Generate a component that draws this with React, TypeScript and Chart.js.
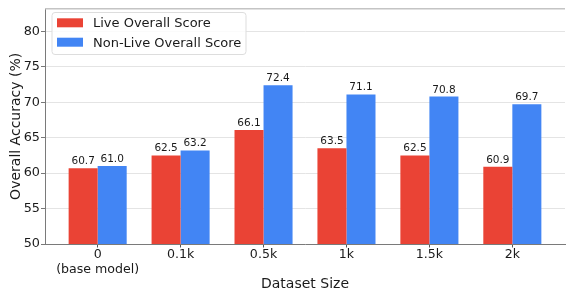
import React, { useEffect, useRef } from 'react';
import { Chart, registerables } from 'chart.js';
Chart.register(...registerables);

const categories: (string | string[])[] = [['0', '(base model)'], '0.1k', '0.5k', '1k', '1.5k', '2k'];
const liveScores = [60.7, 62.5, 66.1, 63.5, 62.5, 60.9];
const nonLiveScores = [61.0, 63.2, 72.4, 71.1, 70.8, 69.7];
const yTicks = [50, 55, 60, 65, 70, 75, 80];
const seriesLabels = ['Live Overall Score', 'Non-Live Overall Score'];
const seriesColors = ['#EA4335', '#4285F4'];

const FONT = '"DejaVu Sans", sans-serif';

const valueLabels = {
  id: 'valueLabels',
  afterDatasetsDraw(chart: any) {
    const ctx = chart.ctx;
    ctx.save();
    ctx.font = `10.5px ${FONT}`;
    ctx.fillStyle = '#1a1a1a';
    ctx.textAlign = 'center';
    ctx.textBaseline = 'alphabetic';
    chart.data.datasets.forEach((ds: any, di: number) => {
      const meta = chart.getDatasetMeta(di);
      meta.data.forEach((el: any, i: number) => {
        const v = ds.data[i].y;
        ctx.fillText(v.toFixed(1), el.x, el.y - 4);
      });
    });
    ctx.restore();
  },
};

const frameAndLegend = {
  id: 'frameAndLegend',
  afterDraw(chart: any) {
    const ctx = chart.ctx;
    const a = chart.chartArea;
    ctx.save();
    // top spine
    ctx.strokeStyle = '#c4c4c4';
    ctx.lineWidth = 1.5;
    ctx.beginPath();
    ctx.moveTo(a.left, a.top);
    ctx.lineTo(a.right, a.top);
    ctx.stroke();
    // legend
    const bx = 52, by = 12.5, bw = 194, bh = 42;
    ctx.fillStyle = 'rgba(255,255,255,0.85)';
    ctx.strokeStyle = '#dddddd';
    ctx.lineWidth = 1;
    ctx.beginPath();
    if (ctx.roundRect) ctx.roundRect(bx, by, bw, bh, 3);
    else ctx.rect(bx, by, bw, bh);
    ctx.fill();
    ctx.stroke();
    const rows = [22.8, 42.2];
    ctx.font = `13px ${FONT}`;
    ctx.textAlign = 'left';
    ctx.textBaseline = 'alphabetic';
    chart.data.datasets.forEach((ds: any, i: number) => {
      const cy = rows[i];
      ctx.fillStyle = ds.backgroundColor;
      ctx.fillRect(57, cy - 4.5, 26, 9);
      ctx.fillStyle = '#1a1a1a';
      ctx.fillText(ds.label, 93, cy + 4.5);
    });
    ctx.restore();
  },
};

export default function App() {
  const ref = useRef<HTMLCanvasElement>(null);
  useEffect(() => {
    document.body.style.margin = '0';
    const datasets = [liveScores, nonLiveScores].map((vals, k) => ({
      label: seriesLabels[k],
      data: vals.map((v, i) => ({ x: i, y: v })),
      backgroundColor: seriesColors[k],
      borderWidth: 0,
      categoryPercentage: 0.7,
      barPercentage: 1.0,
    }));
    const chart = new Chart(ref.current!, {
      type: 'bar',
      data: { datasets },
      options: {
        responsive: false,
        animation: false,
        layout: { padding: { top: 6, right: 1, left: 0, bottom: 0 } },
        plugins: { legend: { display: false }, tooltip: { enabled: false } },
        scales: {
          x: {
            type: 'linear',
            min: -0.635,
            max: 5.635,
            offset: false,
            afterBuildTicks: (s: any) => {
              s.ticks = categories.map((_, i) => ({ value: i }));
            },
            afterFit: (s: any) => {
              s.height = 49;
            },
            ticks: {
              autoSkip: false,
              maxRotation: 0,
              padding: 0,
              color: '#1a1a1a',
              font: { family: FONT, size: 12.6 },
              callback: (v: any) => categories[v as number] as any,
            },
            grid: {
              offset: false,
              drawOnChartArea: false,
              drawTicks: true,
              tickLength: 3.5,
              tickColor: '#555',
            },
            border: { color: '#7a7a7a', width: 1 },
            title: {
              display: true,
              text: 'Dataset Size',
              color: '#1a1a1a',
              font: { family: FONT, size: 14 },
              padding: { top: 0, bottom: 0 },
            },
          },
          y: {
            min: 50,
            max: 83.2,
            afterBuildTicks: (s: any) => {
              s.ticks = yTicks.map((v) => ({ value: v }));
            },
            afterFit: (s: any) => {
              s.width = 45;
            },
            ticks: {
              padding: 1,
              color: '#1a1a1a',
              font: { family: FONT, size: 12.8 },
            },
            grid: {
              color: '#dddddd',
              lineWidth: 0.8,
              borderDash: [2, 2],
              tickLength: 4,
              tickColor: '#555',
              tickBorderDash: [],
            } as any,
            border: { color: '#7a7a7a', width: 1 },
            title: {
              display: true,
              text: 'Overall Accuracy (%)',
              color: '#1a1a1a',
              font: { family: FONT, size: 14 },
              padding: { top: 7.6, bottom: 0 },
            },
          },
        },
      },
      plugins: [valueLabels, frameAndLegend],
    });
    return () => chart.destroy();
  }, []);
  return (
    <div style={{ width: 566, height: 293 }}>
      <canvas ref={ref} width={566} height={293} />
    </div>
  );
}
